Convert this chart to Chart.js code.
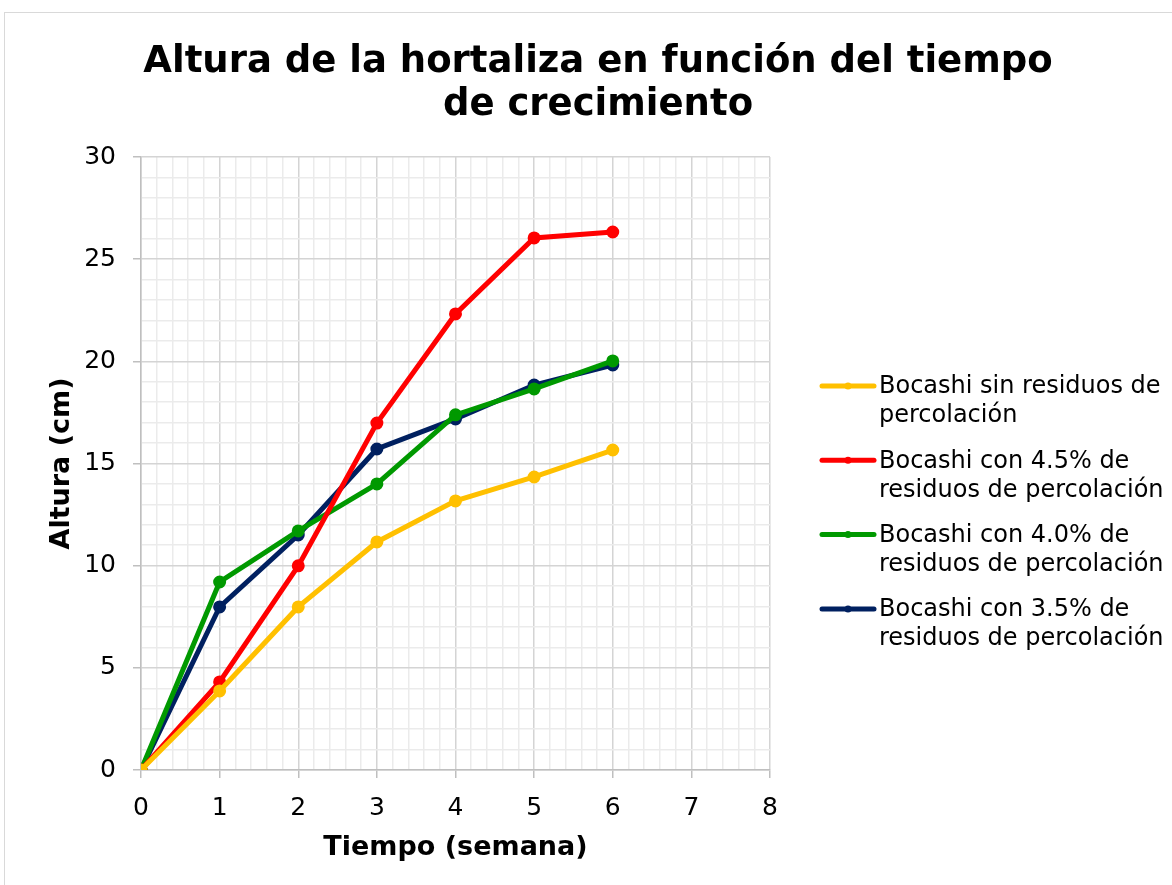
<!DOCTYPE html>
<html>
<head>
<meta charset="utf-8">
<script src="https://cdn.jsdelivr.net/npm/chart.js@4/dist/chart.umd.min.js"></script>
<style>
  html, body { margin: 0; padding: 0; background: #fff; overflow: hidden; }
  #frame { position: absolute; left: 4px; top: 12px; width: 1200px; height: 900px; border: 1px solid #d9d9d9; }
  #wrap { position: absolute; left: 0; top: 0; width: 1172px; height: 885px; }
</style>
</head>
<body>
<div id="frame"></div>
<div id="wrap"><canvas id="chart"></canvas></div>
<script>
// ── Data ──────────────────────────────────────────────────────────────────
const weeks = [0, 1, 2, 3, 4, 5, 6];
const sinResiduos = [0, 3.87, 7.98, 11.16, 13.17, 14.34, 15.66];
const con45 = [0, 4.31, 9.99, 16.98, 22.32, 26.04, 26.33];
const con40 = [0, 9.2, 11.7, 14.0, 17.38, 18.65, 20.02];
const con35 = [0, 7.98, 11.5, 15.71, 17.18, 18.84, 19.82];

const seriesLabels = [
  ['Bocashi sin residuos de', 'percolación'],
  ['Bocashi con 4.5% de', 'residuos de percolación'],
  ['Bocashi con 4.0% de', 'residuos de percolación'],
  ['Bocashi con 3.5% de', 'residuos de percolación']
];
const seriesColors = ['#ffc000', '#ff0000', '#009900', '#002060'];
const titleLines = ['Altura de la hortaliza en función del tiempo', 'de crecimiento'];

const FONT = "'DejaVu Sans', Verdana, sans-serif";
const isMajor = (v, step) => Math.abs(v / step - Math.round(v / step)) < 1e-6;

// ── Title + legend drawn on the canvas ────────────────────────────────────
const decorPlugin = {
  id: 'decor',
  afterDraw(chart) {
    const ctx = chart.ctx;
    ctx.save();
    ctx.fillStyle = '#000';
    ctx.textAlign = 'center';
    ctx.textBaseline = 'alphabetic';
    ctx.font = 'bold 37px ' + FONT;
    ctx.fillText(titleLines[0], 598, 72);
    ctx.fillText(titleLines[1], 598, 115);

    // legend
    ctx.font = '24px ' + FONT;
    ctx.textAlign = 'left';
    ctx.textBaseline = 'middle';
    chart.data.datasets.forEach((ds, i) => {
      const y = 386 + i * 74.3;
      ctx.strokeStyle = ds.borderColor;
      ctx.lineWidth = 5;
      ctx.lineCap = 'round';
      ctx.beginPath();
      ctx.moveTo(822, y);
      ctx.lineTo(874, y);
      ctx.stroke();
      ctx.fillStyle = ds.borderColor;
      ctx.beginPath();
      ctx.arc(848, y, 3.5, 0, Math.PI * 2);
      ctx.fill();
      ctx.fillStyle = '#000';
      seriesLabels[i].forEach((line, k) => ctx.fillText(line, 879, y + 1 + k * 29));
    });
    ctx.restore();
  }
};

// ── Chart ─────────────────────────────────────────────────────────────────
const datasets = [sinResiduos, con45, con40, con35].map((vals, i) => ({
  label: seriesLabels[i].join(' '),
  data: weeks.map((w, k) => ({ x: w, y: vals[k] })),
  borderColor: seriesColors[i],
  backgroundColor: seriesColors[i],
  borderWidth: 5,
  pointRadius: 4,
  pointHoverRadius: 4,
  tension: 0
}));

new Chart(document.getElementById('chart'), {
  type: 'line',
  data: { datasets },
  options: {
    responsive: true,
    maintainAspectRatio: false,
    animation: false,
    layout: { padding: { left: 0, right: 402, top: 157, bottom: 0 } },
    plugins: { legend: { display: false }, title: { display: false }, tooltip: { enabled: false } },
    scales: {
      x: {
        type: 'linear',
        min: 0, max: 8,
        afterFit: s => { s.height = 115; },
        border: { color: '#bfbfbf', width: 1.5 },
        grid: {
          color: c => isMajor(c.tick.value, 1) ? '#d4d4d4' : '#ebebeb',
          lineWidth: 1.5,
          tickColor: c => isMajor(c.tick.value, 1) ? '#bfbfbf' : 'rgba(0,0,0,0)',
          tickLength: 8
        },
        ticks: {
          stepSize: 0.2,
          count: 41,
          maxTicksLimit: 100,
          autoSkip: false,
          maxRotation: 0,
          padding: 15,
          color: '#000',
          font: { family: FONT, size: 25 },
          callback: v => isMajor(v, 1) ? String(Math.round(v)) : ''
        },
        title: {
          display: true,
          text: 'Tiempo (semana)',
          color: '#000',
          font: { family: FONT, size: 27, weight: 'bold' },
          padding: { top: 4, bottom: 21 }
        }
      },
      y: {
        min: 0, max: 30,
        afterFit: s => { s.width = 141; },
        border: { color: '#bfbfbf', width: 1.5 },
        grid: {
          color: c => isMajor(c.tick.value, 5) ? '#d4d4d4' : '#ebebeb',
          lineWidth: 1.5,
          tickColor: c => isMajor(c.tick.value, 5) ? '#bfbfbf' : 'rgba(0,0,0,0)',
          tickLength: 8
        },
        ticks: {
          stepSize: 1,
          count: 31,
          maxTicksLimit: 100,
          autoSkip: false,
          padding: 17,
          color: '#000',
          font: { family: FONT, size: 25 },
          callback: v => isMajor(v, 5) ? String(Math.round(v)) : ''
        },
        title: {
          display: true,
          text: 'Altura (cm)',
          color: '#000',
          font: { family: FONT, size: 27, weight: 'bold' },
          padding: { top: 46, bottom: 0 }
        }
      }
    }
  },
  plugins: [decorPlugin]
});
</script>
</body>
</html>
